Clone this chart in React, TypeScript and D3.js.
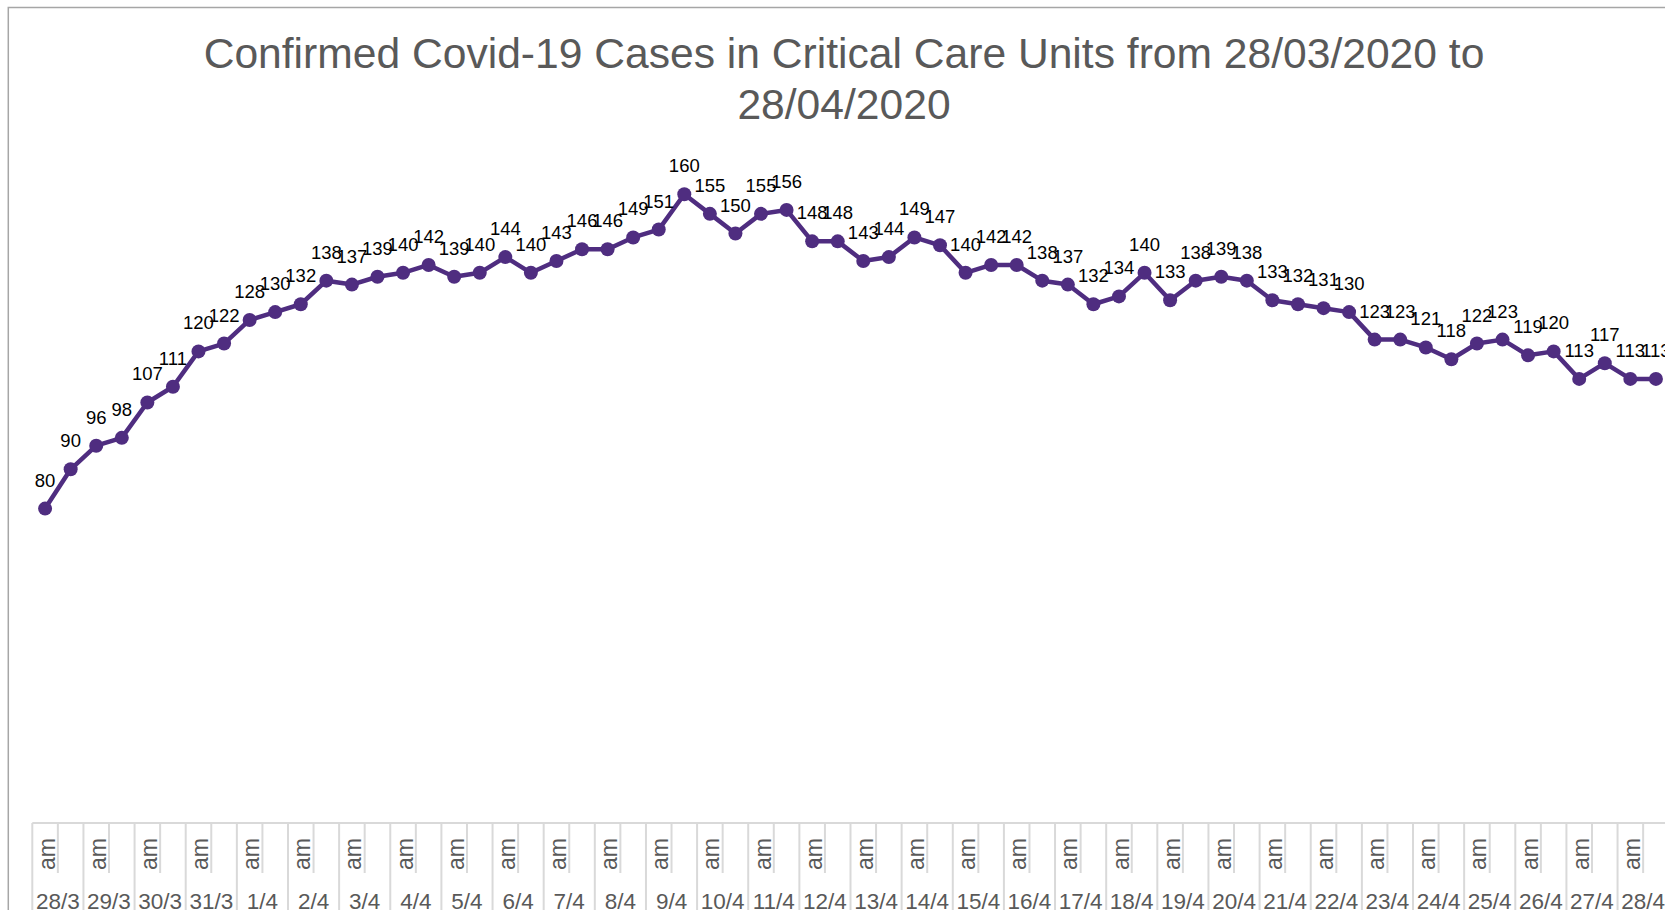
import React from 'react'
import * as d3 from 'd3'

const days = [
  '28/3', '29/3', '30/3', '31/3', '1/4', '2/4', '3/4', '4/4', '5/4', '6/4', '7/4',
  '8/4', '9/4', '10/4', '11/4', '12/4', '13/4', '14/4', '15/4', '16/4', '17/4',
  '18/4', '19/4', '20/4', '21/4', '22/4', '23/4', '24/4', '25/4', '26/4', '27/4', '28/4',
]
const halves = ['am', '']

const cases = [
  80, 90, 96, 98, 107, 111, 120, 122, 128, 130,
  132, 138, 137, 139, 140, 142, 139, 140, 144, 140,
  143, 146, 146, 149, 151, 160, 155, 150, 155, 156,
  148, 148, 143, 144, 149, 147, 140, 142, 142, 138,
  137, 132, 134, 140, 133, 138, 139, 138, 133, 132,
  131, 130, 123, 123, 121, 118, 122, 123, 119, 120,
  113, 117, 113, 113,
]

const titleLines = ['Confirmed Covid-19 Cases in Critical Care Units from 28/03/2020 to', '28/04/2020']

const W = 1665
const H = 910
const plotLeft = 32.3
const plotRight = 1668.7
const axisY = 823
const font = 'Liberation Sans, Arial, sans-serif'
const lineColor = '#4f2d80'

export default function App() {
  const slots = days.flatMap(d => halves.map(h => `${d}|${h}`))

  const x = d3.scaleBand<string>()
    .domain(slots)
    .range([plotLeft, plotRight])

  const dayScale = d3.scaleBand<string>()
    .domain(days)
    .range([plotLeft, plotRight])

  const y = d3.scaleLinear()
    .domain([0, 180])
    .range([axisY, axisY - 180 * 3.93])

  const pts: [number, number][] = cases.map((v, i) => [x(slots[i])! + x.bandwidth() / 2, y(v)])
  const line = d3.line()(pts)

  return (
    <svg width={W} height={H} style={{ position: 'absolute', left: 0, top: 0, overflow: 'hidden' }}>
      <rect x={0} y={0} width={W} height={H} fill="white" />
      <rect x={8.3} y={7.5} width={1690} height={950} fill="none" stroke="#a6a6a6" strokeWidth={1.5} />

      {titleLines.map((t, i) => (
        <text key={i} x={844} y={68 + i * 51} textAnchor="middle" fontFamily={font} fontSize={42.6} fill="#595959">{t}</text>
      ))}

      {/* category table */}
      <line x1={plotLeft} x2={plotRight} y1={axisY} y2={axisY} stroke="#d9d9d9" strokeWidth={2} />
      {days.map(d => (
        <line key={'d' + d} x1={dayScale(d)!} x2={dayScale(d)!} y1={axisY} y2={H} stroke="#d9d9d9" strokeWidth={2} />
      ))}
      {days.map(d => (
        <line key={'h' + d} x1={x(`${d}|`)!} x2={x(`${d}|`)!} y1={axisY} y2={873} stroke="#d9d9d9" strokeWidth={2} />
      ))}
      {slots.filter(s => s.endsWith('|am')).map(s => {
        const cx = x(s)! + x.bandwidth() / 2
        return (
          <text key={'t' + s} transform={`translate(${cx + 1.5},854) rotate(-90)`} textAnchor="middle" dy="0.35em"
            fontFamily={font} fontSize={23} fill="#595959">am</text>
        )
      })}
      {days.map(d => (
        <text key={'l' + d} x={dayScale(d)! + dayScale.bandwidth() / 2} y={909} textAnchor="middle"
          fontFamily={font} fontSize={22.5} fill="#595959">{d}</text>
      ))}

      <path d={line!} fill="none" stroke={lineColor} strokeWidth={4.5} strokeLinejoin="round" />
      {pts.map(([px, py], i) => (
        <circle key={'c' + i} cx={px} cy={py} r={7} fill={lineColor} />
      ))}
      {pts.map(([px, py], i) => (
        <text key={'v' + i} x={px} y={py - 22} textAnchor="middle" fontFamily={font} fontSize={18.5} fill="#000">{cases[i]}</text>
      ))}
    </svg>
  )
}
